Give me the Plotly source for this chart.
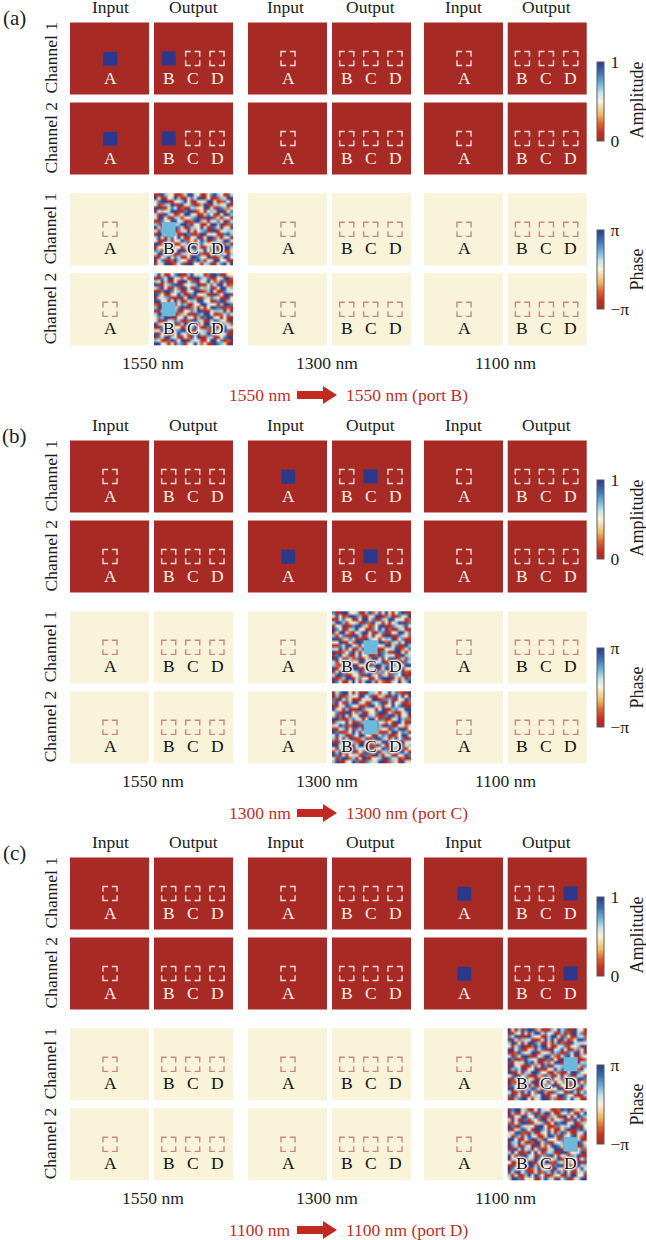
import math
import plotly.graph_objects as go

SECTIONS = ["(a)", "(b)", "(c)"]
WAVELENGTHS = ["1550 nm", "1300 nm", "1100 nm"]
ACTIVE_BAND = [0, 1, 2]
ACTIVE_PORT = ["B", "C", "D"]
ROUTE_FROM = ["1550 nm", "1300 nm", "1100 nm"]
ROUTE_TO = ["1550 nm (port B)", "1300 nm (port C)", "1100 nm (port D)"]
CHANNELS = ["Channel 1", "Channel 2"]
OUTPUT_PORTS = ["B", "C", "D"]
AMP_OFF, AMP_ON = 0.0, 1.0
PHASE_FLAT, PHASE_PORT = 0.0, 1.38

# Speckle estimated by eye from the scrambled output phase maps; each character is a
# class of phase, and PHASE_CLASS gives its value in units of pi.
PHASE_CLASS = [-0.94, -0.1, -0.6, -0.34, 0.0, 0.1, 0.36, 0.64, 0.24, 0.96]
NOISE_A1 = [
"00961400 28991500 17965008","91004896 00175990 40026199","17990015 69400818 99102750","40268900 91570039 00861490",
"99001749 20086149 91007625","05618990 07990240 16899017","80096102 49915008 74001996","19950068 01467900 99280140",
"00714995 80029961 05174908","62900186 99705100 89960027","98042997 10068495 00719850","10679002 85910467 09901568",
"09950180 09700299 15400796","89106749 10058901 99260180","40098015 97240196 00748991","99270600 18900675 14990260",
"01589914 06299100 87005996","76001049 90017859 40691001","19984000 68109920 05917406","00469178 00599714 90028995",
"95700296 41007960 18994100","01899025 70994108 60017959"]
NOISE_A2 = [
"89100479 00691850 29970014","00759918 24009961 70048992","61980040 99170058 91260700","90016799 01486900 17599402",
"17940082 99500716 80049916","00299716 00849902 69100785","97400159 60079148 00925990","08167000 94992006 17850094",
"99510498 00168995 40079061","20078901 76004199 85106997","69940017 90928010 49970020","00815960 04178990 01668910",
"89004992 61000769 94002878","17699005 19840607 99150400","40091876 00299610 08975109","96102400 89750049 91600682",
"00789914 02669100 79004918","18950067 99100486 20918970","90460019 85007916 99041500","07199850 01294900 68005799",
"61002974 99061800 49917020","99480106 70159824 00976109"]
NOISE_B1 = [
"70099148 00692805 91047900","19402997 60018990 26007189","00871500 49917006 89951402","89960148 00729850 10469907",
"04190079 96102499 00781695","97500869 14007598 92006100","01998204 69910067 00489917","60170099 80249150 99007842",
"99061780 00961504 68901700","14900529 97001899 20617490","00789916 04700851 99170096","81960400 89926000 41890257",
"90024798 01699007 60099401","07916001 94800297 18500968","99400827 00169950 49907106","10879015 99600489 02910078",
"62009490 18007996 70061899","90417699 00284901 99580014","01900856 97190067 40098920","89970014 20998506 10764900",
"00269908 71400179 99052807","97100594 08996012 00849169"]
NOISE_B2 = [
"01799408 00966105 89172009","96002851 99470016 00798940","20987100 04819902 76005197","79400699 81006579 01948002",
"00189754 00299160 84917900","98106000 97851049 00678199","47009982 60014799 08200569","10795014 99068200 79960410",
"99200678 10499507 00189672","06849100 76009918 24099500","81970299 00418960 97005128","00469107 89900265 10789904",
"97002598 01679400 08991760","19860074 99510087 60024998","60491900 28007996 10895700","00789162 09400819 97160085",
"99104708 99602071 00489916","40870096 15009849 70069201","08992600 47991008 60179950","97010485 00729960 18004897",
"10799260 89004160 97880200","69001497 00761899 02650981"]
NOISE_C1 = [
"91060799 28000619 87009140","00849106 99174800 60299870","78900096 14008995 07100682","09176850 00498910 96024997",
"69040199 78001069 20098815","10879002 96991004 87015690","99470016 08700958 91006249","00296489 90148067 00789910",
"80719900 04699820 17950064","97002968 19007040 99681002","00481979 80062599 00417986","99150008 24970918 66009127",
"06789014 90005198 79400295","90010689 97410062 00899714","47991600 08296005 91700860","00695918 00179948 20061997",
"92004780 99610405 89970012","07889106 00275990 14008696","99400269 71008149 90672001","10069894 29960071 40098957",
"79210008 64900819 97150006","00679940 18990620 07498100"]
NOISE_C2 = [
"07991600 49815002 97906108","96004287 00699100 81750049","00589914 97002680 09401976","89100706 42998015 60079802",
"20479900 81600497 99150068","97006185 09940027 16899004","00169740 99780100 52900796","84992006 00149806 97100849",
"10760898 50019960 08479120","99400179 06298410 70096800","06895002 99170084 60019975","97100649 00825997 10489006",
"00989160 47001899 06600172","69400295 91078600 99241890","01079984 00629910 48076900","98520016 97400169 00895047",
"40096890 08199206 10759900","00718499 60014079 97200986","97106002 89650098 10470491","08994700 10278960 69100857",
"60100698 97400285 00699140","19970415 00896109 47001899"]
NOISE = [[NOISE_A1, NOISE_A2], [NOISE_B1, NOISE_B2], [NOISE_C1, NOISE_C2]]

COLORSCALE = [[0, "#a82a24"], [0.1, "#c92d20"], [0.22, "#e2602a"], [0.33, "#f4b55c"],
              [0.5, "#f9f3d9"], [0.6, "#c9e8ee"], [0.72, "#6cb9dc"], [0.86, "#3a72b4"],
              [1, "#2c388c"]]
FONT = "Liberation Serif"
INK = "#1c1c1c"
RED = "#b9302a"
COL_X = [(70, 154), (248, 332), (424, 507.7)]
COL_LABEL = [(110, 193), (285, 370), (463, 546)]
BAND_X = [153, 327, 505]
OFFSET = [0, 418, 835]
ROW_Y = [22.5, 102.5, 193.3, 273.3]
W, H = 79, 72
SQ = 13.5
PORT_REL = {"A": 40, "B": 14.7, "C": 38.7, "D": 63}

fig = go.Figure()
shapes, notes = [], []


def cell(left, top, w, h, z, axis):
    fig.add_trace(go.Heatmap(z=[[z]], x0=left + w / 2, dx=w, y0=top + h / 2, dy=h,
                             coloraxis=axis, hoverinfo="skip"))


def text(x, y, s, size=17.5, color=INK, angle=0, shadow=None, anchor="center"):
    f = dict(family=FONT, size=size, color=color)
    if shadow:
        f["shadow"] = shadow
    notes.append(dict(x=x, y=y, xref="x", yref="y", text=s, showarrow=False, font=f,
                      textangle=angle, xanchor=anchor, yanchor="middle"))


def dashed(cx, cy, color):
    s, a = SQ / 2 + 0.3, 5.2
    path = ""
    for sx in (-1, 1):
        for sy in (-1, 1):
            px, py = cx + sx * s, cy + sy * s
            path += f"M{px - sx * a},{py} L{px},{py} L{px},{py - sy * a} "
    shapes.append(dict(type="path", path=path, xref="x", yref="y",
                       line=dict(color=color, width=1.4), layer="above"))


halo = ", ".join(["0 0 1.5px #fff"] * 6 + ["0 0 3px #fff"] * 3)
for s, label in enumerate(SECTIONS):
    off = OFFSET[s]
    amp_axis = "coloraxis" if s == 0 else f"coloraxis{2 * s + 1}"
    ph_axis = f"coloraxis{2 * s + 2}"
    text(14, 17.7 + off, label, size=21)
    for b in range(3):
        active = ACTIVE_BAND[s] == b
        text(COL_LABEL[b][0], 7 + off, "Input")
        text(COL_LABEL[b][1], 7 + off, "Output")
        text(BAND_X[b], 362.7 + off, WAVELENGTHS[b])
        xin, xout = COL_X[b]
        for r in range(4):
            top = ROW_Y[r] + off
            is_amp = r < 2
            axis = amp_axis if is_amp else ph_axis
            base = AMP_OFF if is_amp else PHASE_FLAT
            on = AMP_ON if is_amp else PHASE_PORT
            dash = "#f3dcd6" if is_amp else "#c48b80"
            lab = "#f7efe9" if is_amp else "#111111"
            cy = top + 36
            # input panel
            cell(xin, top, W, H, base, axis)
            px = xin + PORT_REL["A"]
            if active and is_amp:
                cell(px - SQ / 2, cy - SQ / 2, SQ, SQ, on, axis)
            else:
                dashed(px, cy, dash)
            text(px, top + 55, "A", color=lab)
            # output panel
            noisy = active and not is_amp
            if noisy:
                grid = [row.replace(" ", "") for row in NOISE[s][r - 2]]
                z = [[PHASE_CLASS[int(c)] * math.pi for c in row] for row in grid]
                nx, ny = len(grid[0]), len(grid)
                fig.add_trace(go.Heatmap(z=z, x0=xout + W / nx / 2, dx=W / nx,
                                         y0=top + H / ny / 2, dy=H / ny, zsmooth="fast",
                                         coloraxis=axis, hoverinfo="skip"))
            else:
                cell(xout, top, W, H, base, axis)
            for p in OUTPUT_PORTS:
                px = xout + PORT_REL[p]
                if active and p == ACTIVE_PORT[s]:
                    cell(px - SQ / 2 - 0.3, cy - SQ / 2 - 0.3, SQ + 0.6, SQ + 0.6, on, axis)
                elif not noisy:
                    dashed(px, cy, dash)
                text(px, top + 55, p, color=lab, shadow=halo if noisy else None)
    for r in range(4):
        text(50, ROW_Y[r] + off + 36, CHANNELS[r % 2], angle=-90)
    text(259.5, 395 + off, ROUTE_FROM[s], color=RED)
    text(406.5, 395 + off, ROUTE_TO[s], color=RED)
    y = 395 + off
    shapes.append(dict(type="path", xref="x", yref="y", fillcolor="#c02a20", line_width=0,
                       path=f"M297,{y - 4} L323,{y - 4} L323,{y - 9} L337,{y} L323,{y + 9} "
                            f"L323,{y + 4} L297,{y + 4} Z", layer="above"))
    text(636.5, 100 + off, "Amplitude", size=18, angle=-90)
    text(636.5, 270 + off, "Phase", size=18, angle=-90)

layout_axes = {}
for s in range(3):
    off = OFFSET[s]
    amp_key = "coloraxis" if s == 0 else f"coloraxis{2 * s + 1}"
    ph_key = f"coloraxis{2 * s + 2}"
    common = dict(thickness=7, thicknessmode="pixels", len=79, lenmode="pixels", x=597.3 / 646,
                  xanchor="left", xpad=0, ypad=0, yanchor="middle", outlinewidth=1,
                  outlinecolor="#5a5a5a", ticks="outside", ticklen=3, tickcolor="rgba(0,0,0,0)",
                  tickfont=dict(family=FONT, size=17.5, color=INK))
    layout_axes[amp_key] = dict(colorscale=COLORSCALE, cmin=0, cmax=1, colorbar=dict(
        y=1 - (101.2 + off) / 1240, tickvals=[0, 1], ticktext=["0", "1"], **common))
    layout_axes[ph_key] = dict(colorscale=COLORSCALE, cmin=-math.pi, cmax=math.pi, colorbar=dict(
        y=1 - (269.5 + off) / 1240, tickvals=[-math.pi, math.pi], ticktext=["\u2212\u03c0", "\u03c0"], **common))

fig.update_layout(
    width=646, height=1240, margin=dict(l=0, r=0, t=0, b=0), autosize=False,
    plot_bgcolor="white", paper_bgcolor="white", showlegend=False,
    xaxis=dict(visible=False, range=[0, 646], fixedrange=True),
    yaxis=dict(visible=False, range=[1240, 0], fixedrange=True),
    shapes=shapes, annotations=notes, **layout_axes,
)
fig.write_html("out.html", config=dict(displayModeBar=False),
               post_script="document.body.style.margin='0';document.documentElement.style.overflow='hidden';")
